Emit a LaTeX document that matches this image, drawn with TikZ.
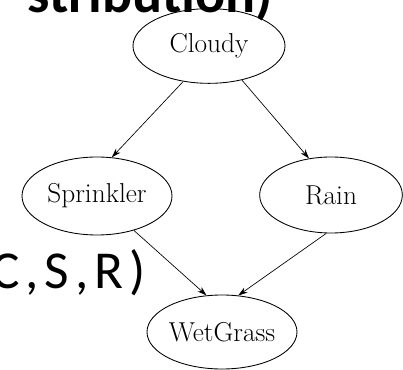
\documentclass[tikz,border=0pt]{standalone}
\usepackage{fontspec}
\newfontfamily\slidefont{Carlito}
\usetikzlibrary{shapes.geometric}
\usetikzlibrary{arrows.meta}

% wide tracking for the slide text
\newcommand{\trk}{\kern4.5pt}

\begin{document}
\begin{tikzpicture}[x=0.75pt,y=0.75pt,yscale=-1,xscale=1,
    var/.style={draw,ellipse,line width=0.65pt,inner xsep=-7pt,inner ysep=0pt,font=\fontsize{20.5}{23}\selectfont},
    dep/.style={-{Stealth[length=7pt,width=4.5pt]},line width=0.5pt}]
\useasboundingbox (0,0) rectangle (403,370);

% Text Node
\node (title) [anchor=base east,inner sep=0pt] at (273,13) {\slidefont\bfseries\fontsize{42}{50}\selectfont stribution)};
% Text Node
\node (joint) [anchor=base east,inner sep=0pt] at (146,288) {\slidefont\fontsize{40}{47}\selectfont C\trk,\trk S\trk,\trk R\trk)};

%Shape: Ellipse
\node (cloudy) [var,minimum width=114pt,minimum height=56pt] at (209,46) {Cloudy};
%Shape: Ellipse
\node (sprinkler) [var,minimum width=112.5pt,minimum height=58.5pt] at (97,196) {Sprinkler};
%Shape: Ellipse
\node (rain) [var,minimum width=107pt,minimum height=57pt] at (331,195) {Rain};
%Shape: Ellipse
\node (wetgrass) [var,minimum width=112.5pt,minimum height=55.5pt] at (222,332) {WetGrass};

% Arrows
\draw [dep] (cloudy.234) -- (sprinkler.69);
\draw [dep] (cloudy.314) -- (rain.121);
\draw [dep] (sprinkler.317) -- (wetgrass.113);
\draw [dep] (rain.263) -- (wetgrass.66);

\end{tikzpicture}
\end{document}
